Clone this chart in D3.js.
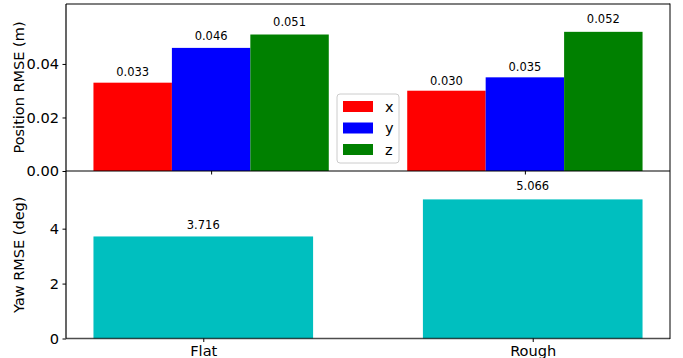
<!DOCTYPE html>
<html>
<head>
<meta charset="utf-8">
<script src="https://cdn.jsdelivr.net/npm/d3@7"></script>
<style>
  html, body { margin: 0; padding: 0; background: #fff; }
  svg { display: block; font-family: "DejaVu Sans", sans-serif; }
</style>
</head>
<body>
<svg id="chart" width="683" height="358"></svg>
<script>
// Terrain categories and per-axis RMSE values
const terrains = ["Flat", "Rough"];
const axesNames = ["x", "y", "z"];
const posX = [0.033, 0.030];
const posY = [0.046, 0.035];
const posZ = [0.051, 0.052];
const yawRmse = [3.716, 5.066];
const posTicks = [0.00, 0.02, 0.04];
const yawTicks = [0, 2, 4];
const seriesColors = ["#ff0000", "#0000ff", "#008000"];
const yawColor = "#00bfbf";

const posSeries = [posX, posY, posZ];

const svg = d3.select("#chart");
const left = 66, right = 670;
const topPanel = { top: 4, bottom: 171 };
const botPanel = { top: 171, bottom: 338.5 };

// value labels sit just above 105% of the bar height
const labelY = (scale, v) => scale(v * 1.05) - 2;

// ---- Top panel: grouped position RMSE bars ----
const barW = 0.25;
const xTop = d3.scaleLinear().domain([-0.4625, 1.4625]).range([left, right]);
const yTop = d3.scaleLinear().domain([0, 0.0624]).range([topPanel.bottom, topPanel.top]);

const gTop = svg.append("g");
posSeries.forEach((vals, si) => {
  const off = (si - 1) * barW;
  gTop.selectAll(null).data(vals).enter().append("rect")
    .attr("x", (d, i) => xTop(i + off - barW / 2))
    .attr("width", xTop(barW) - xTop(0))
    .attr("y", d => yTop(d))
    .attr("height", d => yTop(0) - yTop(d))
    .attr("fill", seriesColors[si]);
  gTop.selectAll(null).data(vals).enter().append("text")
    .attr("x", (d, i) => xTop(i + off))
    .attr("y", d => labelY(yTop, d))
    .attr("text-anchor", "middle")
    .attr("font-size", 11.5)
    .attr("fill", "#000")
    .text(d => d.toFixed(3));
});

// ---- Bottom panel: yaw RMSE bars ----
const yawW = 2 / 3;
const xBot = d3.scaleLinear().domain([-0.4167, 1.4167]).range([left, right]);
const yBot = d3.scaleLinear().domain([0, 6.1]).range([botPanel.bottom, botPanel.top]);

const gBot = svg.append("g");
gBot.selectAll(null).data(yawRmse).enter().append("rect")
  .attr("x", (d, i) => xBot(i - yawW / 2))
  .attr("width", xBot(yawW) - xBot(0))
  .attr("y", d => yBot(d))
  .attr("height", d => yBot(0) - yBot(d))
  .attr("fill", yawColor);
gBot.selectAll(null).data(yawRmse).enter().append("text")
  .attr("x", (d, i) => xBot(i))
  .attr("y", d => labelY(yBot, d))
  .attr("text-anchor", "middle")
  .attr("font-size", 11.5)
  .attr("fill", "#000")
  .text(d => d.toFixed(3));

// ---- Axes ----
function styleAxis(g) {
  g.select(".domain").remove();
  g.selectAll(".tick line").attr("stroke", "#000").attr("stroke-width", 1);
  g.selectAll(".tick text").attr("font-size", 14.6).attr("fill", "#000")
    .attr("font-family", "DejaVu Sans, sans-serif");
}

svg.append("g").attr("transform", `translate(${left},0)`)
  .call(d3.axisLeft(yTop).tickValues(posTicks).tickFormat(d3.format(".2f")).tickSize(3.5).tickPadding(3.5))
  .call(styleAxis);
svg.append("g").attr("transform", `translate(${left},0)`)
  .call(d3.axisLeft(yBot).tickValues(yawTicks).tickFormat(d3.format("d")).tickSize(3.5).tickPadding(3.5))
  .call(styleAxis);

// top panel x ticks (no labels)
svg.append("g").attr("transform", `translate(0,${topPanel.bottom})`)
  .call(d3.axisBottom(xTop).tickValues([0, 1]).tickFormat("").tickSize(3.5))
  .call(styleAxis);

// bottom panel x ticks with terrain names
svg.append("g").attr("transform", `translate(0,${botPanel.bottom})`)
  .call(d3.axisBottom(xBot).tickValues([0, 1]).tickFormat(i => terrains[i]).tickSize(3.5).tickPadding(3.5))
  .call(styleAxis);

// ---- Spines ----
svg.append("line").attr("x1", left).attr("x2", right).attr("y1", topPanel.top).attr("y2", topPanel.top)
  .attr("stroke", "#000").attr("stroke-width", 1.2);
svg.append("line").attr("x1", left).attr("x2", left).attr("y1", topPanel.top).attr("y2", botPanel.bottom)
  .attr("stroke", "#000").attr("stroke-width", 1.2);
svg.append("line").attr("x1", right).attr("x2", right).attr("y1", topPanel.top - 0.5).attr("y2", botPanel.bottom + 0.5)
  .attr("stroke", "rgba(0,0,0,0.5)").attr("stroke-width", 2);
svg.append("line").attr("x1", left).attr("x2", right).attr("y1", topPanel.bottom).attr("y2", topPanel.bottom)
  .attr("stroke", "rgba(0,0,0,0.5)").attr("stroke-width", 2);
svg.append("line").attr("x1", left).attr("x2", right).attr("y1", botPanel.bottom).attr("y2", botPanel.bottom)
  .attr("stroke", "rgba(0,0,0,0.7)").attr("stroke-width", 1.5);

// ---- Axis titles ----
svg.append("text")
  .attr("transform", `translate(24,${(topPanel.top + topPanel.bottom) / 2}) rotate(-90)`)
  .attr("text-anchor", "middle").attr("font-size", 14.5).attr("fill", "#000")
  .text("Position RMSE (m)");
svg.append("text")
  .attr("transform", `translate(24,${(botPanel.top + botPanel.bottom) / 2}) rotate(-90)`)
  .attr("text-anchor", "middle").attr("font-size", 14.5).attr("fill", "#000")
  .text("Yaw RMSE (deg)");

// ---- Legend ----
const leg = svg.append("g").attr("transform", "translate(337,94)");
leg.append("rect").attr("width", 62).attr("height", 69).attr("rx", 3)
  .attr("fill", "#fff").attr("fill-opacity", 0.8).attr("stroke", "#cccccc").attr("stroke-width", 1);
axesNames.forEach((name, i) => {
  const row = leg.append("g").attr("transform", `translate(0,${12.5 + i * 21.5})`);
  row.append("rect").attr("x", 6).attr("y", -5.5).attr("width", 30).attr("height", 11)
    .attr("fill", seriesColors[i]);
  row.append("text").attr("x", 48).attr("y", 5).attr("font-size", 14.5).attr("fill", "#000")
    .text(name);
});
</script>
</body>
</html>
